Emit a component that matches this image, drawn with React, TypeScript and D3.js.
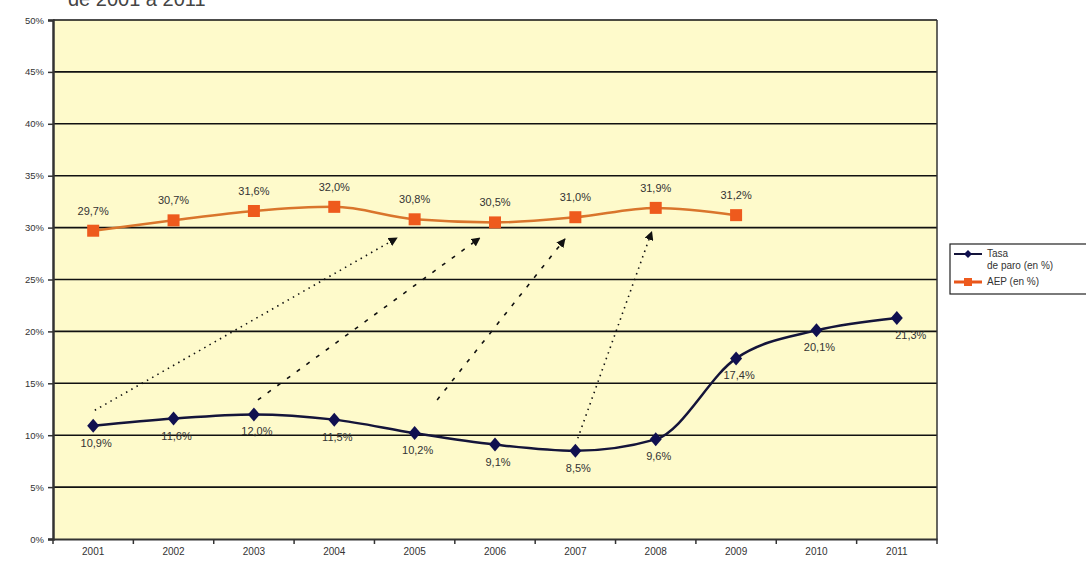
import * as d3 from 'd3';
import React, { useEffect, useRef } from 'react';

const years = ['2001', '2002', '2003', '2004', '2005', '2006', '2007', '2008', '2009', '2010', '2011'];
const paro = [10.9, 11.6, 12.0, 11.5, 10.2, 9.1, 8.5, 9.6, 17.4, 20.1, 21.3];
const aep = [29.7, 30.7, 31.6, 32.0, 30.8, 30.5, 31.0, 31.9, 31.2];
const yTicks = [0, 5, 10, 15, 20, 25, 30, 35, 40, 45, 50];

// annotation arrows: fractional category index + value
const arrows = [
  { x0: 0.02, y0: 12.4, x1: 3.78, y1: 29.0, dash: '1.5,4.5' },
  { x0: 2.05, y0: 13.4, x1: 4.81, y1: 29.0, dash: '4,8' },
  { x0: 4.28, y0: 13.4, x1: 5.87, y1: 28.9, dash: '4,8' },
  { x0: 6.03, y0: 9.7, x1: 6.95, y1: 29.6, dash: '1.5,4.5' },
];

const fmt = (v: number) => v.toFixed(1).replace('.', ',') + '%';

const App: React.FC = () => {
  const svgRef = useRef(null);

  useEffect(() => {
    const W = 1086;
    const H = 563;
    const margin = { top: 20, right: 149, bottom: 24, left: 53 };
    const width = W - margin.left - margin.right;
    const height = H - margin.top - margin.bottom;

    const svg = d3.select(svgRef.current);
    svg.selectAll('*').remove();
    svg.attr('width', W).attr('height', H);

    svg.append('rect').attr('width', W).attr('height', H).attr('fill', '#fff');

    // title (cut off at the top, as in the source image)
    svg
      .append('text')
      .attr('x', 68)
      .attr('y', 6)
      .attr('font-family', 'Liberation Sans, Arial, sans-serif')
      .attr('font-size', 20)
      .attr('fill', '#444')
      .text('de 2001 a 2011');

    const chart = svg.append('g').attr('transform', `translate(${margin.left},${margin.top})`);

    const x = d3.scaleBand().domain(years).range([0, width]);
    const xi = (i: number) => x.step() * (i + 0.5);
    const y = d3.scaleLinear().domain([0, 50]).range([height, 0]);

    chart.append('rect').attr('width', width).attr('height', height).attr('fill', '#fefacb');

    // gridlines
    chart
      .selectAll('.grid')
      .data(yTicks.slice(1))
      .enter()
      .append('line')
      .attr('x1', 0)
      .attr('x2', width)
      .attr('y1', (d) => y(d))
      .attr('y2', (d) => y(d))
      .attr('stroke', '#111')
      .attr('stroke-width', 1.6);

    chart
      .append('line')
      .attr('x1', width)
      .attr('x2', width)
      .attr('y1', 0)
      .attr('y2', height)
      .attr('stroke', '#333')
      .attr('stroke-width', 1.5);

    const font = 'Liberation Sans, Arial, sans-serif';

    // y axis
    const yAxis = chart
      .append('g')
      .call(d3.axisLeft(y).tickValues(yTicks).tickSize(5).tickFormat((d) => `${d}%`));
    yAxis.select('.domain').attr('stroke', '#333').attr('stroke-width', 2.5);
    yAxis.selectAll('line').attr('stroke', '#333').attr('stroke-width', 1.5);
    yAxis
      .selectAll('text')
      .attr('font-family', font)
      .attr('font-size', 9.5)
      .attr('fill', '#333')
      .attr('x', -9);

    // x axis
    const xAxis = chart
      .append('g')
      .attr('transform', `translate(0,${height})`)
      .call(d3.axisBottom(x).tickSize(0).tickPadding(9));
    xAxis.select('.domain').attr('stroke', '#333').attr('stroke-width', 2);
    xAxis.selectAll('text').attr('font-family', font).attr('font-size', 10).attr('fill', '#333');
    xAxis
      .selectAll('.sep')
      .data(d3.range(years.length + 1))
      .enter()
      .append('line')
      .attr('x1', (d) => d * x.step())
      .attr('x2', (d) => d * x.step())
      .attr('y1', 0)
      .attr('y2', 5)
      .attr('stroke', '#333')
      .attr('stroke-width', 1.5);

    // arrows
    const defs = svg.append('defs');
    defs
      .append('marker')
      .attr('id', 'ah')
      .attr('viewBox', '0 0 10 10')
      .attr('refX', 9)
      .attr('refY', 5)
      .attr('markerWidth', 9)
      .attr('markerHeight', 9)
      .attr('markerUnits', 'userSpaceOnUse')
      .attr('orient', 'auto')
      .append('path')
      .attr('d', 'M0,0 L10,5 L0,10 z')
      .attr('fill', '#111');

    chart
      .selectAll('.arrow')
      .data(arrows)
      .enter()
      .append('line')
      .attr('x1', (d) => xi(d.x0))
      .attr('y1', (d) => y(d.y0))
      .attr('x2', (d) => xi(d.x1))
      .attr('y2', (d) => y(d.y1))
      .attr('stroke', '#111')
      .attr('stroke-width', 1.6)
      .attr('stroke-dasharray', (d) => d.dash)
      .attr('marker-end', 'url(#ah)');

    const line = d3
      .line<number>()
      .x((_, i) => xi(i))
      .y((d) => y(d))
      .curve(d3.curveMonotoneX);

    // AEP series
    chart
      .append('path')
      .datum(aep)
      .attr('fill', 'none')
      .attr('stroke', '#d9752c')
      .attr('stroke-width', 2.5)
      .attr('d', line);
    chart
      .selectAll('.aep-pt')
      .data(aep)
      .enter()
      .append('rect')
      .attr('x', (_, i) => xi(i) - 6)
      .attr('y', (d) => y(d) - 6)
      .attr('width', 12)
      .attr('height', 12)
      .attr('fill', '#ee5a1d');
    chart
      .selectAll('.aep-lbl')
      .data(aep)
      .enter()
      .append('text')
      .attr('x', (_, i) => xi(i))
      .attr('y', (d) => y(d) - 16)
      .attr('text-anchor', 'middle')
      .attr('font-family', font)
      .attr('font-size', 11)
      .attr('fill', '#333')
      .text((d) => fmt(d));

    // Tasa de paro series
    chart
      .append('path')
      .datum(paro)
      .attr('fill', 'none')
      .attr('stroke', '#14143a')
      .attr('stroke-width', 2.5)
      .attr('d', line);
    chart
      .selectAll('.paro-pt')
      .data(paro)
      .enter()
      .append('path')
      .attr('transform', (d, i) => `translate(${xi(i)},${y(d)})`)
      .attr('d', 'M0,-7 L6,0 L0,7 L-6,0 Z')
      .attr('fill', '#101050');
    chart
      .selectAll('.paro-lbl')
      .data(paro)
      .enter()
      .append('text')
      .attr('x', (_, i) => xi(i) + (i === paro.length - 1 ? 14 : 3))
      .attr('y', (d) => y(d) + 21)
      .attr('text-anchor', 'middle')
      .attr('font-family', font)
      .attr('font-size', 11)
      .attr('fill', '#333')
      .text((d) => fmt(d));

    // legend
    const lg = svg.append('g').attr('transform', 'translate(950,244)');
    lg.append('rect')
      .attr('width', 150)
      .attr('height', 50)
      .attr('fill', '#fff')
      .attr('stroke', '#222')
      .attr('stroke-width', 1.2);
    lg.append('line').attr('x1', 4).attr('x2', 32).attr('y1', 10).attr('y2', 10).attr('stroke', '#14143a').attr('stroke-width', 2);
    lg.append('path').attr('transform', 'translate(18,10)').attr('d', 'M0,-4 L4,0 L0,4 L-4,0 Z').attr('fill', '#101050');
    lg.append('line').attr('x1', 4).attr('x2', 32).attr('y1', 38).attr('y2', 38).attr('stroke', '#e8561b').attr('stroke-width', 3);
    lg.append('rect').attr('x', 14).attr('y', 34).attr('width', 8).attr('height', 8).attr('fill', '#ee5a1d');
    const lt = lg
      .append('g')
      .attr('font-family', font)
      .attr('font-size', 10)
      .attr('fill', '#333');
    lt.append('text').attr('x', 37).attr('y', 13).text('Tasa');
    lt.append('text').attr('x', 37).attr('y', 25).text('de paro (en %)');
    lt.append('text').attr('x', 37).attr('y', 41).text('AEP (en %)');
  }, []);

  return <svg ref={svgRef} style={{ position: 'absolute', left: 0, top: 0 }} />;
};

export default App;
